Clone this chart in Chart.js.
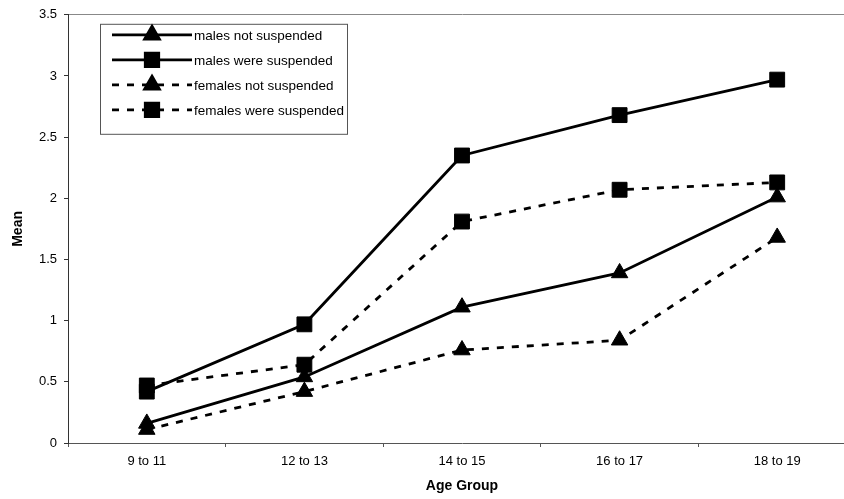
<!DOCTYPE html>
<html>
<head>
<meta charset="utf-8">
<script src="https://cdn.jsdelivr.net/npm/chart.js@4"></script>
<style>
  html, body { margin: 0; padding: 0; background: #fff; overflow: hidden; }
  #wrap { position: relative; width: 870px; height: 499px; }
</style>
</head>
<body>
<div id="wrap"><canvas id="grafik"></canvas></div>
<script>
const ageGroups = ["9 to 11", "12 to 13", "14 to 15", "16 to 17", "18 to 19"];
const malesNotSuspended = [0.16, 0.54, 1.11, 1.39, 2.01];
const malesWereSuspended = [0.42, 0.97, 2.35, 2.68, 2.97];
const femalesNotSuspended = [0.11, 0.42, 0.76, 0.84, 1.68];
const femalesWereSuspended = [0.47, 0.64, 1.81, 2.07, 2.13];
const yTicks = [0, 0.5, 1, 1.5, 2, 2.5, 3, 3.5];

const FONT = "'Liberation Sans', Arial, sans-serif";
const DASH = [7, 8];

const series = (label, data, style, dashed) => ({
  label,
  data,
  borderColor: "#000",
  backgroundColor: "#000",
  borderWidth: 2.8,
  borderDash: dashed ? DASH : [],
  pointStyle: style,
  pointRadius: style === "rect" ? 10.5 : 9.5,
  pointHoverRadius: style === "rect" ? 10.5 : 9.5,
  pointBorderWidth: 1,
  tension: 0,
});

// legend box drawn inside the plot, top-left
const boxLegend = {
  id: "boxLegend",
  afterDatasetsDraw(chart) {
    const { ctx, chartArea } = chart;
    const x0 = chartArea.left + 32;
    const y0 = chartArea.top + 9;
    const w = 247, h = 110;
    ctx.save();
    ctx.fillStyle = "#fff";
    ctx.fillRect(x0, y0, w, h);
    ctx.strokeStyle = "#555";
    ctx.lineWidth = 1;
    ctx.strokeRect(x0 + 0.5, y0 + 0.5, w, h);
    chart.data.datasets.forEach((ds, i) => {
      const y = y0 + 11 + i * 25;
      ctx.strokeStyle = "#000";
      ctx.lineWidth = 2.8;
      ctx.setLineDash(ds.borderDash);
      ctx.beginPath();
      ctx.moveTo(x0 + 12, y);
      ctx.lineTo(x0 + 92, y);
      ctx.stroke();
      ctx.setLineDash([]);
      ctx.fillStyle = "#000";
      Chart.helpers.drawPoint(ctx, {
        pointStyle: ds.pointStyle,
        radius: ds.pointStyle === "rect" ? 9.5 : 8.5,
        borderWidth: 1,
      }, x0 + 52, y);
      ctx.fillStyle = "#000";
      ctx.font = "13.5px " + FONT;
      ctx.textBaseline = "middle";
      ctx.fillText(ds.label, x0 + 94, y + 1);
    });
    ctx.restore();
  },
};

new Chart(document.querySelector("#grafik"), {
  type: "line",
  data: {
    labels: ageGroups,
    datasets: [
      series("males not suspended", malesNotSuspended, "triangle", false),
      series("males were suspended", malesWereSuspended, "rect", false),
      series("females not suspended", femalesNotSuspended, "triangle", true),
      series("females were suspended", femalesWereSuspended, "rect", true),
    ],
  },
  options: {
    responsive: true,
    maintainAspectRatio: false,
    animation: false,
    layout: { padding: { top: 14, right: 14, left: 0, bottom: 0 } },
    plugins: {
      legend: { display: false },
      tooltip: { enabled: false },
    },
    scales: {
      x: {
        offset: true,
        border: { color: "#555", width: 1 },
        grid: { offset: true, drawOnChartArea: false, tickLength: 4, tickColor: "#555" },
        ticks: { color: "#000", font: { family: FONT, size: 13 }, padding: 7, maxRotation: 0 },
        title: { display: true, text: "Age Group", color: "#000", font: { family: FONT, size: 14, weight: "bold" }, padding: { top: 6, bottom: 4 } },
        afterFit: (s) => { s.height = 56; },
      },
      y: {
        min: 0,
        max: 3.5,
        border: { color: "#333", width: 1 },
        grid: {
          color: (c) => (c.tick && c.tick.value === 3.5 ? "#888" : "rgba(0,0,0,0)"),
          tickColor: "#333",
          tickLength: 4,
        },
        afterBuildTicks: (s) => { s.ticks = yTicks.map((v) => ({ value: v })); },
        ticks: { color: "#000", font: { family: FONT, size: 13 }, padding: 7, callback: (v) => String(v) },
        title: { display: true, text: "Mean", color: "#000", font: { family: FONT, size: 14, weight: "bold" }, padding: { top: 10, bottom: 0 } },
        afterFit: (s) => { s.width = 68; },
      },
    },
  },
  plugins: [boxLegend],
});
</script>
</body>
</html>
